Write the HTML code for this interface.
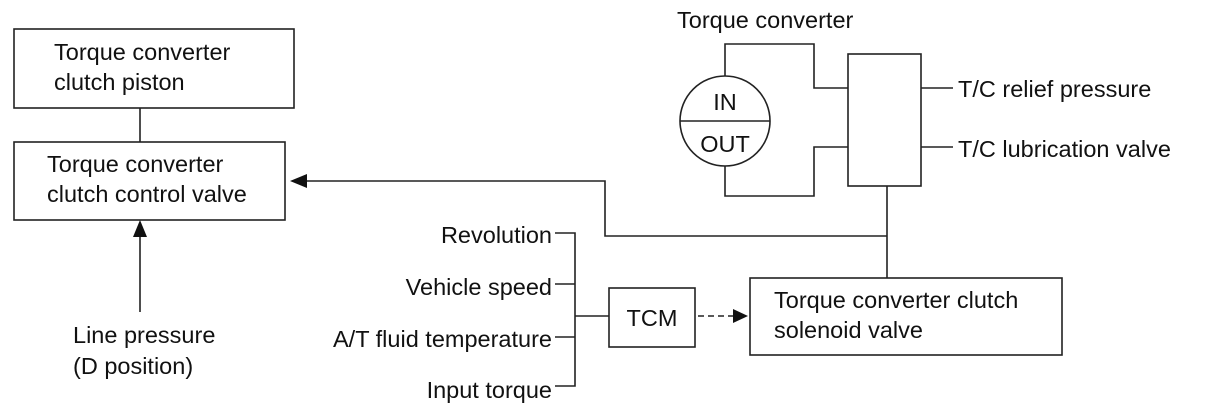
<!DOCTYPE html>
<html><head><meta charset="utf-8"><style>
html,body{margin:0;padding:0;background:#fff;}
svg text{font-family:"Liberation Sans",Arial,sans-serif;font-size:23.5px;fill:#111;}
</style></head><body>
<svg width="1205" height="413" viewBox="0 0 1205 413" xmlns="http://www.w3.org/2000/svg">
<g fill="none" stroke="#222" stroke-width="1.6">
<rect x="14" y="29" width="280" height="79"/>
<rect x="14" y="142" width="271" height="78"/>
<line x1="140" y1="108" x2="140" y2="142"/>
<line x1="140" y1="236" x2="140" y2="312"/>
<circle cx="725" cy="121" r="45"/>
<line x1="680" y1="121" x2="770" y2="121"/>
<polyline points="725,76 725,44 814,44 814,88 848,88"/>
<polyline points="725,166 725,196 814,196 814,147 848,147"/>
<rect x="848" y="54" width="73" height="132"/>
<line x1="921" y1="88" x2="953" y2="88"/>
<line x1="921" y1="147" x2="953" y2="147"/>
<line x1="887" y1="186" x2="887" y2="278"/>
<polyline points="887,236 605,236 605,181 306,181"/>
<rect x="750" y="278" width="312" height="77"/>
<rect x="609" y="288" width="86" height="59"/>
<polyline points="555,233 575,233 575,386 555,386"/>
<line x1="555" y1="284" x2="575" y2="284"/>
<line x1="555" y1="337" x2="575" y2="337"/>
<line x1="575" y1="316" x2="609" y2="316"/>
<line x1="698" y1="316" x2="734" y2="316" stroke-dasharray="6,4"/>
</g>
<g fill="#111">
<polygon points="140,220 133,237 147,237"/>
<polygon points="290,181 307,174 307,188"/>
<polygon points="748,316 733,309 733,323"/>
</g>
<text x="54" y="60">Torque converter</text>
<text x="54" y="90">clutch piston</text>
<text x="47" y="172">Torque converter</text>
<text x="47" y="202">clutch control valve</text>
<text x="73" y="343">Line pressure</text>
<text x="73" y="374">(D position)</text>
<text x="677" y="28">Torque converter</text>
<text x="725" y="110" text-anchor="middle">IN</text>
<text x="725" y="152" text-anchor="middle">OUT</text>
<text x="958" y="97">T/C relief pressure</text>
<text x="958" y="157">T/C lubrication valve</text>
<text x="552" y="243" text-anchor="end">Revolution</text>
<text x="552" y="295" text-anchor="end">Vehicle speed</text>
<text x="552" y="347" text-anchor="end">A/T fluid temperature</text>
<text x="552" y="398" text-anchor="end">Input torque</text>
<text x="652" y="326" text-anchor="middle">TCM</text>
<text x="774" y="308">Torque converter clutch</text>
<text x="774" y="338">solenoid valve</text>
</svg>
</body></html>
